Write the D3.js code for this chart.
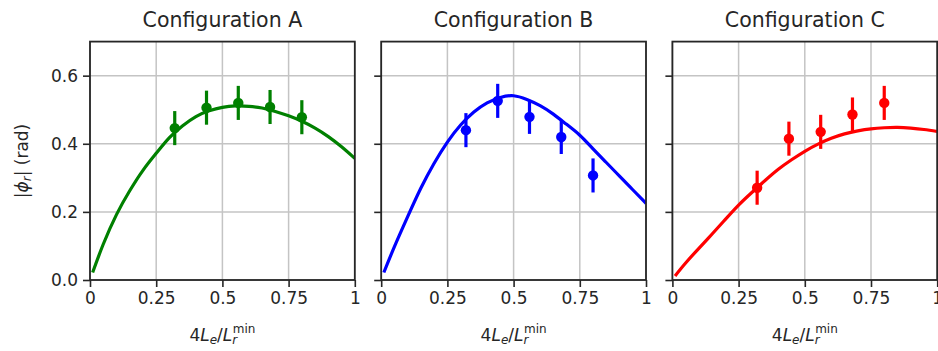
<!DOCTYPE html>
<html>
<head>
<meta charset="utf-8">
<script src="https://cdn.jsdelivr.net/npm/d3@7"></script>
<style>
  body { margin: 0; background: #fff; }
  svg { font-family: "DejaVu Sans", sans-serif; }
</style>
</head>
<body>
<svg width="938" height="351"></svg>
<script>
// measured points (same x for every configuration)
var xMeas = [0.32, 0.44, 0.56, 0.68, 0.80];
var yA = [0.446, 0.506, 0.520, 0.508, 0.478];
var yB = [0.440, 0.526, 0.479, 0.420, 0.307];
var yC = [0.271, 0.415, 0.435, 0.486, 0.520];
var err = 0.05;

// model curves
var xCurve = [0.01, 0.05, 0.1, 0.15, 0.2, 0.25, 0.3, 0.35, 0.4, 0.45, 0.5,
              0.55, 0.6, 0.65, 0.7, 0.75, 0.8, 0.85, 0.9, 0.95, 1.0];
var curveA = [0.022, 0.105, 0.192, 0.262, 0.322, 0.372, 0.418, 0.453, 0.48, 0.497, 0.507,
              0.511, 0.51, 0.505, 0.495, 0.482, 0.466, 0.446, 0.421, 0.391, 0.357];
var curveB = [0.022, 0.098, 0.186, 0.27, 0.343, 0.405, 0.455, 0.493, 0.52, 0.536, 0.541,
              0.53, 0.512, 0.487, 0.457, 0.425, 0.385, 0.345, 0.305, 0.265, 0.225];
var curveC = [0.012, 0.05, 0.093, 0.135, 0.178, 0.22, 0.257, 0.292, 0.325, 0.353, 0.378,
              0.399, 0.416, 0.429, 0.438, 0.444, 0.447, 0.448, 0.446, 0.442, 0.436];

var titles = ["Configuration A", "Configuration B", "Configuration C"];
var colors = ["#008000", "#0000ff", "#ff0000"];
var xTicks = [0, 0.25, 0.5, 0.75, 1];
var xTickLabels = ["0", "0.25", "0.5", "0.75", "1"];
var yTicks = [0, 0.2, 0.4, 0.6];

var panels = [
  {title: titles[0], color: colors[0], pts: yA, curve: curveA},
  {title: titles[1], color: colors[1], pts: yB, curve: curveB},
  {title: titles[2], color: colors[2], pts: yC, curve: curveC}
];

var svg = d3.select("svg");
var top_ = 41.6, bottom = 280, pw = 264.8, step = 291.2, left0 = 90;

var y = d3.scaleLinear().domain([0, 0.7]).range([bottom, top_]);

panels.forEach(function(p, i) {
  var left = left0 + i * step;
  var x = d3.scaleLinear().domain([0, 1]).range([left, left + pw]);
  var g = svg.append("g");

  g.append("clipPath").attr("id", "clip" + i)
    .append("rect").attr("x", left).attr("y", top_).attr("width", pw).attr("height", bottom - top_);

  // grid
  g.selectAll(".gx").data(xTicks).enter().append("line")
    .attr("x1", function(d) { return x(d); }).attr("x2", function(d) { return x(d); })
    .attr("y1", top_).attr("y2", bottom)
    .attr("stroke", "#c4c4c4").attr("stroke-width", 1.5);
  g.selectAll(".gy").data(yTicks).enter().append("line")
    .attr("x1", left).attr("x2", left + pw)
    .attr("y1", function(d) { return y(d); }).attr("y2", function(d) { return y(d); })
    .attr("stroke", "#c4c4c4").attr("stroke-width", 1.5);

  // curve
  var line = d3.line()
    .x(function(d, k) { return x(xCurve[k]); })
    .y(function(d) { return y(d); })
    .curve(d3.curveNatural);
  g.append("path").datum(p.curve)
    .attr("d", line)
    .attr("fill", "none").attr("stroke", p.color).attr("stroke-width", 3.2)
    .attr("clip-path", "url(#clip" + i + ")");

  // error bars and points
  g.selectAll(".eb").data(p.pts).enter().append("line")
    .attr("x1", function(d, k) { return x(xMeas[k]); })
    .attr("x2", function(d, k) { return x(xMeas[k]); })
    .attr("y1", function(d) { return y(d - err); })
    .attr("y2", function(d) { return y(d + err); })
    .attr("stroke", p.color).attr("stroke-width", 3.2);
  g.selectAll(".pt").data(p.pts).enter().append("circle")
    .attr("cx", function(d, k) { return x(xMeas[k]); })
    .attr("cy", function(d) { return y(d); })
    .attr("r", 5.2).attr("fill", p.color);

  // axes
  var xAxis = g.append("g").attr("transform", "translate(0," + bottom + ")")
    .call(d3.axisBottom(x).tickValues(xTicks)
      .tickFormat(function(d, k) { return xTickLabels[k]; })
      .tickSize(7).tickPadding(5));
  var yAxis = g.append("g").attr("transform", "translate(" + left + ",0)")
    .call(d3.axisLeft(y).tickValues(yTicks)
      .tickFormat(i === 0 ? d3.format(".1f") : function() { return ""; })
      .tickSize(7).tickPadding(5));
  [xAxis, yAxis].forEach(function(a) {
    a.select(".domain").remove();
    a.selectAll(".tick line").attr("stroke", "#262626").attr("stroke-width", 1.6);
    a.selectAll(".tick text").attr("fill", "#262626")
      .style("font-size", "17px").style("font-family", "DejaVu Sans");
  });

  // frame
  g.append("rect").attr("x", left).attr("y", top_).attr("width", pw).attr("height", bottom - top_)
    .attr("fill", "none").attr("stroke", "#262626").attr("stroke-width", 1.8);

  // title
  g.append("text").attr("x", left + pw / 2).attr("y", 27)
    .attr("text-anchor", "middle").attr("fill", "#262626")
    .style("font-size", "20.5px").text(p.title);

  // x label
  var xl = g.append("text").attr("x", left + pw / 2).attr("y", 341)
    .attr("text-anchor", "middle").attr("fill", "#262626").style("font-size", "17px");
  xl.append("tspan").text("4");
  xl.append("tspan").style("font-style", "italic").text("L");
  xl.append("tspan").style("font-style", "italic").style("font-size", "12px").attr("dy", 3).text("e");
  xl.append("tspan").attr("dy", -3).text("/");
  xl.append("tspan").style("font-style", "italic").text("L");
  xl.append("tspan").style("font-style", "italic").style("font-size", "12px").attr("dy", 3).text("r");
  xl.append("tspan").style("font-size", "12px").attr("dx", -4.5).attr("dy", -11).text("min");
});

// y label
var yl = svg.append("text")
  .attr("transform", "translate(28,161) rotate(-90)")
  .attr("text-anchor", "middle").attr("fill", "#262626").style("font-size", "17px");
yl.append("tspan").text("|");
yl.append("tspan").style("font-style", "italic").text("ϕ");
yl.append("tspan").style("font-style", "italic").style("font-size", "12px").attr("dy", 3).text("r");
yl.append("tspan").attr("dy", -3).text("| (rad)");
</script>
</body>
</html>
